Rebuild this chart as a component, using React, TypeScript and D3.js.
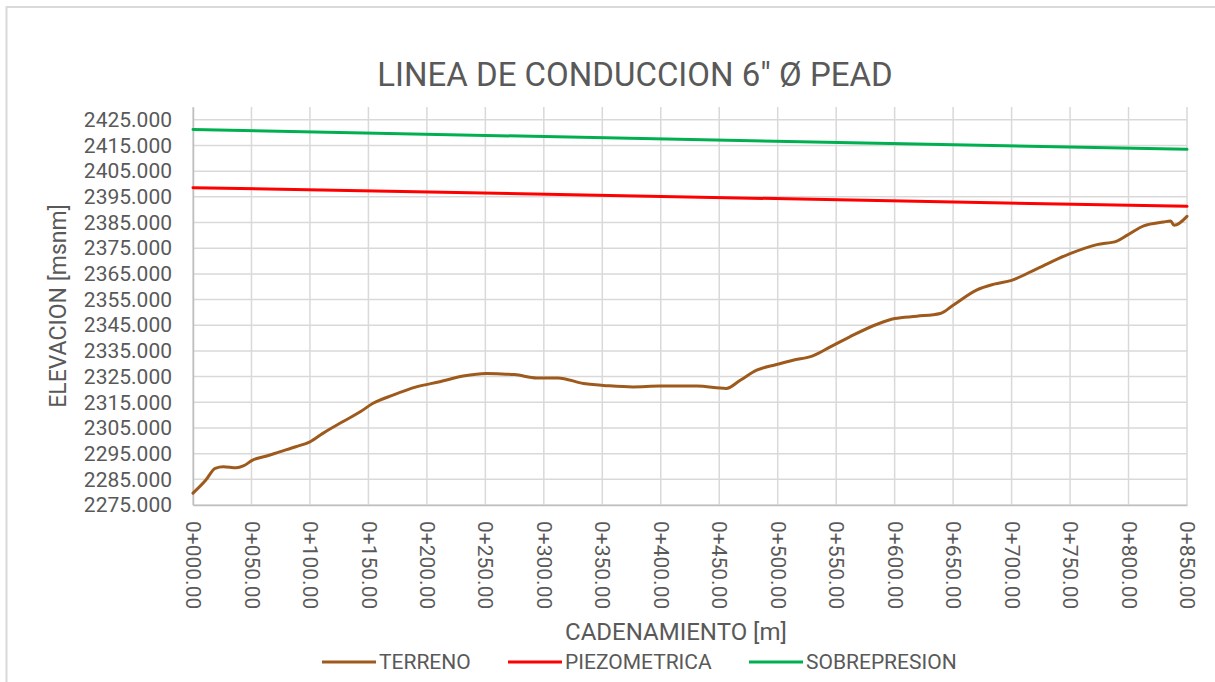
import { useEffect, useRef } from 'react'
import * as d3 from 'd3'

// Cadenamiento (m) y elevación del terreno (msnm)
const stations = [0, 11, 19, 26, 37, 43, 51, 63, 74, 88, 100, 111, 128, 143, 154, 171, 191, 211, 231, 251, 264, 275, 294, 312, 334, 356, 376, 399, 431, 456, 468, 482, 499, 513, 530, 545, 562, 585, 600, 619, 639, 650, 670, 685, 700, 722, 750, 773, 790, 799, 813, 830, 836, 839, 850]
const terreno = [2279.6, 2284.7, 2289.3, 2289.9, 2289.5, 2290.2, 2292.5, 2294.1, 2295.7, 2297.7, 2299.6, 2302.9, 2307.4, 2311.3, 2314.6, 2317.8, 2321.0, 2323.0, 2325.2, 2326.2, 2326.0, 2325.8, 2324.5, 2324.5, 2322.3, 2321.4, 2321.0, 2321.3, 2321.3, 2320.4, 2323.6, 2327.5, 2329.7, 2331.4, 2333.1, 2336.6, 2340.6, 2345.4, 2347.6, 2348.5, 2349.6, 2352.8, 2358.7, 2361.0, 2362.5, 2367.1, 2372.9, 2376.4, 2377.8, 2380.1, 2383.7, 2385.2, 2385.6, 2383.9, 2387.4]

const lineStations = [0, 850]
const piezometrica = [2398.6, 2391.3]
const sobrepresion = [2421.2, 2413.5]

const xTicks = [0, 50, 100, 150, 200, 250, 300, 350, 400, 450, 500, 550, 600, 650, 700, 750, 800, 850]
const yTicks = [2275, 2285, 2295, 2305, 2315, 2325, 2335, 2345, 2355, 2365, 2375, 2385, 2395, 2405, 2415, 2425]

const series = [
  { name: 'TERRENO', color: '#9E5A1C', x: stations, y: terreno },
  { name: 'PIEZOMETRICA', color: '#FF0000', x: lineStations, y: piezometrica },
  { name: 'SOBREPRESION', color: '#00B050', x: lineStations, y: sobrepresion },
]

const W = 1215
const H = 682
const FONT = 'Roboto, "Open Sans", sans-serif'
const TEXT = '#595959'
const GRID = '#D9D9D9'

const fmtStation = (d: number) =>
  `${Math.floor(d / 1000)}+${String(d % 1000).padStart(3, '0')}.00`

export default function App() {
  const svgRef = useRef<SVGSVGElement>(null)

  useEffect(() => {
    if (!svgRef.current) return
    const svg = d3.select(svgRef.current)
    svg.selectAll('*').remove()

    const margin = { top: 107, right: 28, bottom: 177, left: 193 }
    const w = W - margin.left - margin.right
    const h = H - margin.top - margin.bottom

    const x = d3.scaleLinear().domain([0, 850]).range([0, w])
    const y = d3.scaleLinear().domain([2275, 2430]).range([h, 0])

    // chart border
    svg.append('rect')
      .attr('x', 6.5).attr('y', 7)
      .attr('width', W + 10).attr('height', H + 10)
      .attr('fill', 'white')
      .attr('stroke', GRID)
      .attr('stroke-width', 2)

    svg.append('text')
      .attr('x', 635).attr('y', 86)
      .attr('text-anchor', 'middle')
      .attr('fill', TEXT)
      .attr('font-family', FONT)
      .attr('font-size', 33)
      .text('LINEA DE CONDUCCION 6" Ø PEAD')

    const g = svg.append('g').attr('transform', `translate(${margin.left},${margin.top})`)

    // grid
    g.append('g').selectAll('line').data(yTicks).enter().append('line')
      .attr('x1', 0).attr('x2', w)
      .attr('y1', d => y(d)).attr('y2', d => y(d))
      .attr('stroke', GRID).attr('stroke-width', 1.5)
    g.append('g').selectAll('line').data(xTicks).enter().append('line')
      .attr('x1', d => x(d)).attr('x2', d => x(d))
      .attr('y1', 0).attr('y2', h)
      .attr('stroke', GRID).attr('stroke-width', 1.5)

    // axes
    const yAxis = g.append('g')
      .call(d3.axisLeft(y).tickValues(yTicks).tickSize(0).tickPadding(21).tickFormat(d => (d as number).toFixed(3)))
    yAxis.select('.domain').attr('stroke', '#BFBFBF').attr('stroke-width', 1.5)
    yAxis.selectAll('text')
      .attr('fill', TEXT).attr('font-family', FONT).attr('font-size', 21)

    const xAxis = g.append('g')
      .attr('transform', `translate(0,${h})`)
      .call(d3.axisBottom(x).tickValues(xTicks).tickSize(0).tickFormat(d => fmtStation(d as number)))
    xAxis.select('.domain').attr('stroke', '#BFBFBF').attr('stroke-width', 1.5)
    xAxis.selectAll('text')
      .attr('fill', TEXT).attr('font-family', FONT).attr('font-size', 21)
      .attr('transform', 'rotate(90)')
      .attr('text-anchor', 'start')
      .attr('dy', '0.35em')
      .attr('x', 16)
      .attr('y', 0)

    // series (terrain smoothed like the original)
    series.forEach(s => {
      const pts = s.x.map((d, i) => [d, s.y[i]] as [number, number])
      const line = d3.line<[number, number]>()
        .x(d => x(d[0]))
        .y(d => y(d[1]))
        .curve(d3.curveMonotoneX)
      g.append('path')
        .datum(pts)
        .attr('d', line)
        .attr('fill', 'none')
        .attr('stroke', s.color)
        .attr('stroke-width', 3)
        .attr('stroke-linejoin', 'round')
        .attr('stroke-linecap', 'round')
    })

    // axis titles
    svg.append('text')
      .attr('transform', `translate(58,306) rotate(-90)`)
      .attr('text-anchor', 'middle')
      .attr('dy', '0.35em')
      .attr('fill', TEXT).attr('font-family', FONT).attr('font-size', 23)
      .text('ELEVACION [msnm]')

    svg.append('text')
      .attr('x', 676).attr('y', 632)
      .attr('text-anchor', 'middle')
      .attr('dy', '0.35em')
      .attr('fill', TEXT).attr('font-family', FONT).attr('font-size', 24)
      .text('CADENAMIENTO [m]')

    // legend
    const legendX = [322, 508, 749]
    series.forEach((s, i) => {
      const lg = svg.append('g').attr('transform', `translate(${legendX[i]},662)`)
      lg.append('line')
        .attr('x1', 0).attr('x2', 54)
        .attr('stroke', s.color).attr('stroke-width', 3)
      lg.append('text')
        .attr('x', 57).attr('dy', '0.35em')
        .attr('fill', TEXT).attr('font-family', FONT).attr('font-size', 21)
        .text(s.name)
    })
  }, [])

  return (
    <svg
      ref={svgRef}
      width={W}
      height={H}
      style={{ position: 'absolute', left: 0, top: 0, display: 'block', background: 'white' }}
    />
  )
}
